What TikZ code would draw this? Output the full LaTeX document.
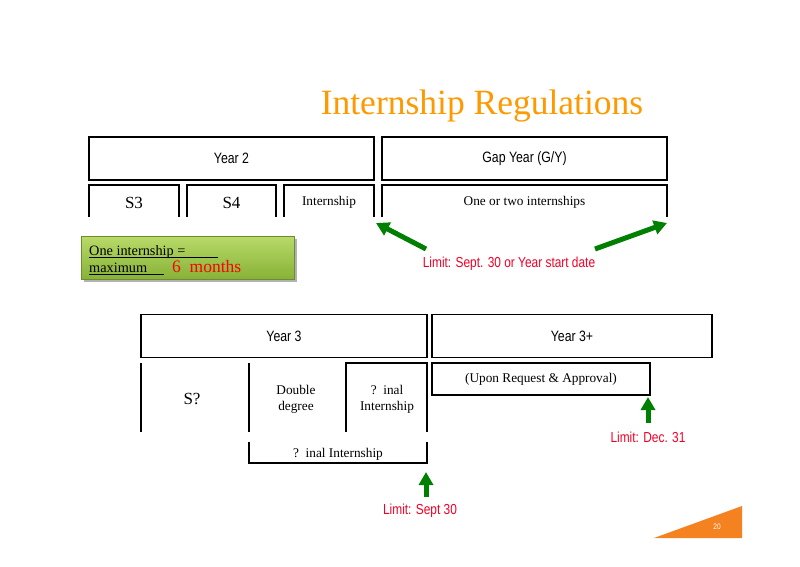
\documentclass[tikz,border=0pt]{standalone}
\usepackage{fontspec}
\setmainfont{Liberation Serif}
\newfontfamily\narrow[FakeStretch=0.82]{Liberation Sans}
\usetikzlibrary{arrows.meta}
\definecolor{titleor}{RGB}{255,153,0}
\definecolor{triang}{RGB}{245,130,32}
\definecolor{arrgreen}{RGB}{0,128,0}
\definecolor{limred}{RGB}{240,0,40}
\definecolor{greentop}{RGB}{185,218,105}
\definecolor{greenbot}{RGB}{135,178,55}
\definecolor{greenedge}{RGB}{110,140,50}
\begin{document}
\begin{tikzpicture}[x=1pt,y=-1pt,
  boxline/.style={line width=1.1pt, draw=black},
  fullbox/.style={boxline, inner sep=0pt, outer sep=0pt},
  sanslbl/.style={font=\narrow\fontsize{15}{16}\selectfont, inner sep=0pt},
  serlbl/.style={font=\fontsize{13.3}{16}\selectfont, inner sep=0pt, align=center},
  biglbl/.style={font=\fontsize{17}{20}\selectfont, inner sep=0pt},
  limitlbl/.style={font=\narrow\fontsize{14.5}{16}\selectfont, text=limred, inner sep=0pt},
  garrow/.style={draw=arrgreen, line width=5pt, -{Triangle[length=13pt,width=14pt]}},
]
\useasboundingbox (0,0) rectangle (800,566);
\fill[white] (0,0) rectangle (800,566);

% title
\node[font=\fontsize{35.5}{38}\selectfont, text=titleor, inner sep=0pt, anchor=base] (title) at (482,114) {Internship Regulations};

% ---- Year 2 / Gap year ----
\node[fullbox, sanslbl, minimum width=285pt, minimum height=43pt] (y2) at (231.5,158.5) {Year 2};
\node[fullbox, sanslbl, minimum width=285pt, minimum height=43pt] (gy) at (524.5,158.5) {Gap Year (G/Y)};

\draw[boxline] (89,217) |- (179,185) -- (179,217);
\draw[boxline] (187,217) |- (276,185) -- (276,217);
\draw[boxline] (284,217) |- (374,185) -- (374,217);
\draw[boxline] (382,217) |- (667,185) -- (667,217);
\node[biglbl] (s3) at (134,202.5) {S3};
\node[biglbl] (s4) at (231.5,202.5) {S4};
\node[serlbl] (int) at (329,202.5) {Internship};
\node[serlbl] (oot) at (524.5,202.5) {One or two internships};

% arrows and limit
\coordinate (la) at (426,249);
\coordinate (lt) at (376,223);
\coordinate (ra) at (595,249);
\coordinate (rt) at (667,223);
\draw[garrow] (la) -- (lt);
\draw[garrow] (ra) -- (rt);
\node[limitlbl] (lim1) at (509,264) {Limit: Sept. 30 or Year start date};

% green note
\fill[black!30] (84,239) rectangle (297,282);
\shade[top color=greentop, bottom color=greenbot] (81,236) rectangle (294,279);
\draw[greenedge, line width=0.6pt] (81,236) rectangle (294,279);
\node[font=\fontsize{14.3}{16}\selectfont, inner sep=0pt, anchor=base west] (n1) at (89,255) {One internship =};
\node[font=\fontsize{14.3}{16}\selectfont, inner sep=0pt, anchor=base west] (n2) at (89,272) {maximum};
\node[font=\fontsize{17.5}{20}\selectfont, text=red, inner sep=0pt, anchor=base west] (n3) at (172,272) {6\,\,\,months};
\draw[line width=0.7pt] (89,257) -- (218,257);
\draw[line width=0.7pt] (89,274) -- (164,274);

% ---- Year 3 / Year 3+ ----
\node[fullbox, sanslbl, minimum width=286pt, minimum height=43pt] (y3) at (284,336) {Year 3};
\node[fullbox, sanslbl, minimum width=280pt, minimum height=43pt] (y3p) at (572,336) {Year 3+};

\draw[boxline] (141,363) -- (141,432);
\draw[boxline] (249,363) -- (249,432);
\draw[boxline] (346,432) |- (427,363) -- (427,432);
\node[biglbl] (sq) at (192,399) {S?};
\node[serlbl] (dd) at (296,399) {Double\\degree};
\node[serlbl] (fi) at (387,399) {?\ \ inal\\Internship};

\draw[boxline] (249,442) |- (427,463) -- (427,442);
\node[serlbl] (fi2) at (338,454) {?\ \ inal Internship};

\node[fullbox, serlbl, minimum width=218pt, minimum height=32pt] (ura) at (541,379) {(Upon Request \& Approval)};

\coordinate (da) at (648,423);
\coordinate (dt) at (648,397);
\draw[garrow] (da) -- (dt);
\node[limitlbl] (lim2) at (648,437) {Limit: Dec. 31};

\coordinate (sa) at (426,497);
\coordinate (st) at (426,472);
\draw[garrow] (sa) -- (st);
\node[limitlbl] (lim3) at (420,511) {Limit: Sept 30};

% slide number triangle
\fill[triang] (654,538) -- (742,506) -- (742,538) -- cycle;
\node[font=\narrow\fontsize{8}{9}\selectfont, text=white, inner sep=0pt] (pg) at (717,527) {20};
\end{tikzpicture}
\end{document}
